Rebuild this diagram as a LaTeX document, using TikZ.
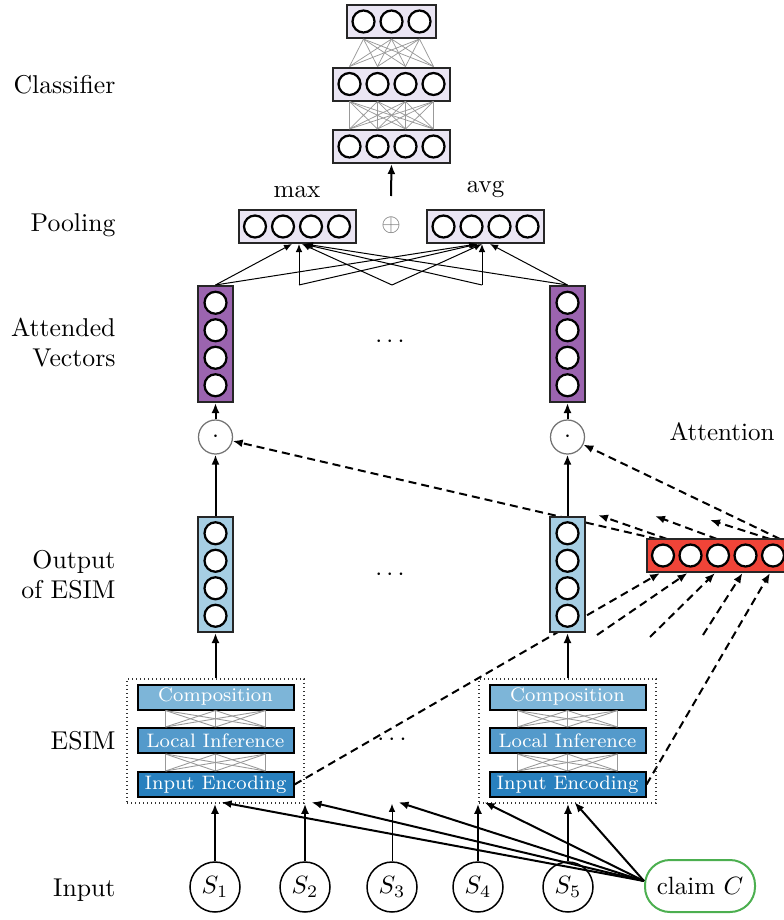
\documentclass[tikz,border=0pt]{standalone}
\usetikzlibrary{arrows.meta}
\pgfdeclarelayer{background}
\pgfsetlayers{background,main}
\definecolor{lav}{RGB}{234,229,243}
\definecolor{purp}{RGB}{155,100,175}
\definecolor{ltblue}{RGB}{166,206,227}
\definecolor{compc}{RGB}{125,181,216}
\definecolor{locc}{RGB}{84,154,203}
\definecolor{encc}{RGB}{40,128,190}
\definecolor{attred}{RGB}{240,68,56}
\definecolor{claimg}{RGB}{76,175,80}
\def\upx{0.4pt}
\begin{document}
\begin{tikzpicture}[x=0.4pt,y=-0.4pt,
 neuron/.style={circle, draw=black, line width=0.9pt, fill=white, minimum size=22*\upx, inner sep=0pt},
 layerbox/.style={draw=black!85, line width=0.8pt, inner sep=0pt},
 hbox4/.style={layerbox, fill=lav, minimum width=117*\upx, minimum height=33*\upx},
 vbox/.style={layerbox, minimum width=35*\upx, minimum height=116*\upx},
 dotop/.style={circle, draw=black!55, line width=0.5pt, minimum size=34*\upx, inner sep=0pt},
 arr/.style={-{Latex[length=4pt,width=3.2pt]}, line width=0.8pt},
 thinarr/.style={-{Latex[length=3.2pt,width=2.6pt]}, line width=0.4pt},
 dasharr/.style={-{Latex[length=4pt,width=3.2pt]}, line width=0.8pt, dash pattern=on 3.2pt off 2pt},
 conn/.style={draw=black!40, line width=0.3pt},
 esimlayer/.style={draw=black, line width=0.8pt, minimum width=156*\upx, minimum height=25*\upx, inner sep=0pt, text=white, font=\fontsize{7.8}{9}\selectfont},
 esimbox/.style={draw=black!80, line width=0.6pt, dash pattern=on 0.5pt off 1.1pt, minimum width=177*\upx, minimum height=124*\upx, inner sep=0pt},
 lbl/.style={anchor=east, align=right, inner xsep=0pt, font=\fontsize{10.3}{12}\selectfont},
 sent/.style={circle, draw=black, line width=0.6pt, minimum size=50*\upx, inner sep=0pt}
]
\useasboundingbox (0,0) rectangle (784,920);
\clip (0,0) rectangle (784,920);

% ---------- labels ----------
\node[lbl] (lcls) at (116,85) {Classifier};
\node[lbl] (lpool) at (116,225) {Pooling};
\node[lbl] (latt) at (116,343) {Attended\\Vectors};
\node[lbl] (lout) at (116,575) {Output\\of ESIM};
\node[lbl] (lesim) at (116,741) {ESIM};
\node[lbl] (lin) at (116,890) {Input};
\node (lattn) at (722,432) {Attention};

% ---------- classifier ----------
\node[layerbox, fill=lav, minimum width=89*\upx, minimum height=33*\upx] (c3) at (391.5,21.5) {};
\foreach \i/\x in {1/363.5,2/391.5,3/419.5} \node[neuron] (c3n\i) at (\x,21.5) {};
\node[hbox4] (c2) at (391.5,84) {};
\foreach \i/\x in {1/349.5,2/377.5,3/405.5,4/433.5} \node[neuron] (c2n\i) at (\x,84) {};
\node[hbox4] (c1) at (391.5,146.5) {};
\foreach \i/\x in {1/349.5,2/377.5,3/405.5,4/433.5} \node[neuron] (c1n\i) at (\x,146.5) {};
\foreach \i in {1,2,3} \foreach \j in {1,2,3,4} \draw[conn] (c3n\i |- c3.south) -- (c2n\j |- c2.north);
\foreach \i in {1,2,3,4} \foreach \j in {1,2,3,4} \draw[conn] (c2n\i |- c2.south) -- (c1n\j |- c1.north);

% ---------- pooling ----------
\node[hbox4] (max) at (297,226.5) {};
\foreach \i/\x in {1/255,2/283,3/311,4/339} \node[neuron] (mxn\i) at (\x,226.5) {};
\node[hbox4] (avg) at (485.5,226.5) {};
\foreach \i/\x in {1/443.5,2/471.5,3/499.5,4/527.5} \node[neuron] (avn\i) at (\x,226.5) {};
\node[anchor=base] (lmax) at (297,197) {max};
\node[anchor=base] (lavg) at (485.5,192) {avg};
\node[text=black!55] (oplus) at (391,225) {$\oplus$};
\coordinate (poolout) at (391,196);
\draw[arr] (poolout) -- (c1.south);

% ---------- attended vectors ----------
\node[vbox, fill=purp] (purpL) at (215.5,344) {};
\node[vbox, fill=purp] (purpR) at (567.5,344) {};
\foreach \i/\y in {1/302.75,2/330.25,3/357.75,4/385.25} {
  \node[neuron] (pLn\i) at (215.5,\y) {};
  \node[neuron] (pRn\i) at (567.5,\y) {};
}
\node (dots1) at (390,342) {$\cdots$};

% pooling connections
\coordinate (p2) at (299,285);
\coordinate (p3) at (392,285);
\coordinate (p4) at (482,285);
\foreach \src/\dm/\da in {purpL.north/-5/-8.5, p2/2/-7.5, p3/5/-3.5, p4/6/-3.5, purpR.north/8/4.5} {
  \draw[thinarr] (\src) -- ([xshift=\dm*\upx]max.south);
  \draw[thinarr] (\src) -- ([xshift=\da*\upx]avg.south);
}

% ---------- product circles ----------
\node[dotop] (dotL) at (215.5,437) {$\cdot$};
\node[dotop] (dotR) at (567.5,437) {$\cdot$};
\draw[arr] (dotL.north) -- (purpL.south);
\draw[arr] (dotR.north) -- (purpR.south);

% ---------- output of ESIM ----------
\node[vbox, fill=ltblue, minimum height=115*\upx] (outL) at (215.5,574.5) {};
\node[vbox, fill=ltblue, minimum height=115*\upx] (outR) at (567.5,574.5) {};
\foreach \i/\y in {1/533.25,2/560.75,3/588.25,4/615.75} {
  \node[neuron] (oLn\i) at (215.5,\y) {};
  \node[neuron] (oRn\i) at (567.5,\y) {};
}
\node (dots2) at (390,575) {$\cdots$};
\draw[arr] (outL.north) -- (dotL.south);
\draw[arr] (outR.north) -- (dotR.south);

% ---------- attention vector ----------
\node[layerbox, fill=attred, minimum width=142*\upx, minimum height=33*\upx] (red) at (718,555.5) {};
\foreach \i/\x in {1/663,2/690.5,3/718,4/745.5,5/773} \node[neuron] (r\i) at (\x,555.5) {};

% ---------- ESIM blocks ----------
\foreach \s/\x in {L/215.5,R/567.5} {
  \node[esimbox] (esim\s) at (\x,741) {};
  \node[esimlayer, fill=compc] (comp\s) at (\x,697) {Composition};
  \node[esimlayer, fill=locc] (loc\s) at (\x,740.5) {Local Inference};
  \node[esimlayer, fill=encc] (enc\s) at (\x,784.5) {Input Encoding};
  \foreach \a in {-50,0,50} \foreach \b in {-50,0,50} {
    \draw[draw=black!40, line width=0.35pt] ([xshift=\a*\upx]comp\s.south) -- ([xshift=\b*\upx]loc\s.north);
    \draw[draw=black!40, line width=0.35pt] ([xshift=\a*\upx]loc\s.south) -- ([xshift=\b*\upx]enc\s.north);
  }
  \draw[arr] (esim\s.north) -- (out\s.south);
}
\node (dots3) at (392,740) {$\cdots$};

% ---------- input ----------
\foreach \i/\x in {1/215,2/305,3/392,4/478,5/568} {
  \node[sent] (s\i) at (\x,887) {$S_\i$};
  \coordinate (t\i) at (s\i |- esimL.south);
}
\node[draw=claimg, line width=0.8pt, rounded corners=10pt, minimum width=110*\upx, minimum height=52*\upx] (claim) at (700,886) {claim $C$};
\foreach \i in {1,2,4,5} \draw[arr] (s\i.north) -- (t\i);
\draw[thinarr] (s3.north) -- (t3);
\foreach \i in {1,...,5} \draw[arr] ([yshift=2pt]claim.west) -- ([xshift=2.6pt,yshift=0.6pt]t\i);

% ---------- dashed attention connections ----------
\coordinate (e2) at (597,635);
\coordinate (e3) at (650,637);
\coordinate (e4) at (703,635);
\coordinate (ua) at (657,539);
\coordinate (ub) at (780,539);
\coordinate (uc) at (667,539);
\coordinate (ud) at (717,539);
\coordinate (ue) at (770,539);
\coordinate (tc) at (598,515);
\coordinate (td) at (655,516);
\coordinate (te) at (710,520);
\begin{pgfonlayer}{background}
  \draw[dasharr] (encL.east) -- ([xshift=-1.2pt]r1 |- red.south);
  \draw[dasharr] (e2) -- ([xshift=-1.2pt]r2 |- red.south);
  \draw[dasharr] (e3) -- ([xshift=-1.2pt]r3 |- red.south);
  \draw[dasharr] (e4) -- ([xshift=-1.2pt]r4 |- red.south);
  \draw[dasharr] (encR.east) -- ([xshift=-1.2pt]r5 |- red.south);
  \draw[dasharr] (ua) -- (dotL);
  \draw[dasharr] (ub) -- (dotR);
  \draw[dasharr] (uc) -- (tc);
  \draw[dasharr] (ud) -- (td);
  \draw[dasharr] (ue) -- (te);
\end{pgfonlayer}
\end{tikzpicture}
\end{document}
